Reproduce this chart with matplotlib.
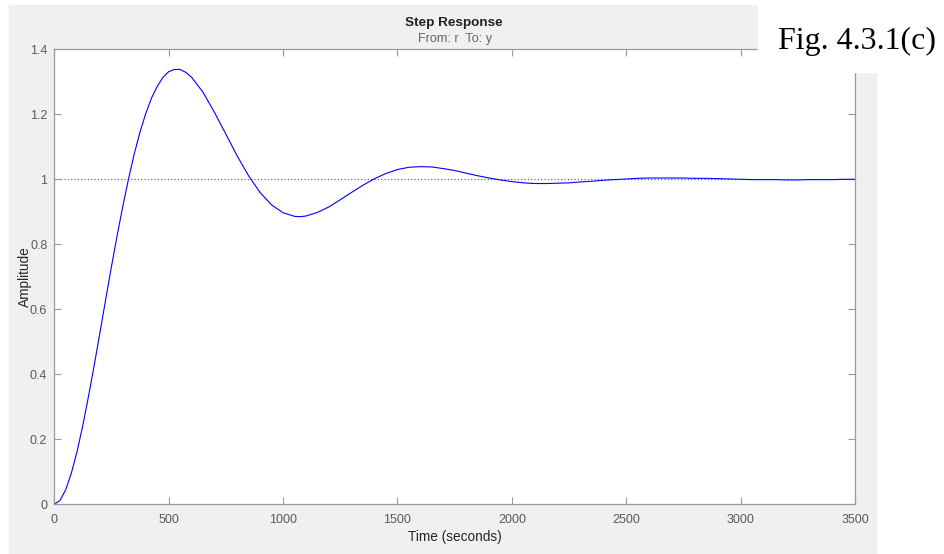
import matplotlib
matplotlib.use("Agg")
import matplotlib.pyplot as plt
from matplotlib.patches import Rectangle

# step response (seconds, amplitude)
t_s = [0, 25, 50, 75, 100, 125, 150, 175, 200, 225, 250, 275, 300, 325, 350,
       375, 400, 425, 450, 475, 500, 525, 550, 575, 600, 650, 700, 750, 800,
       850, 900, 950, 1000, 1050, 1075, 1100, 1150, 1200, 1250, 1300, 1350,
       1400, 1450, 1500, 1550, 1600, 1650, 1700, 1750, 1800, 1850, 1900, 1950,
       2000, 2050, 2100, 2150, 2200, 2250, 2300, 2350, 2400, 2450, 2500, 2550,
       2600, 2650, 2700, 2750, 2800, 2850, 2900, 2950, 3000, 3050, 3100, 3150,
       3200, 3250, 3300, 3350, 3400, 3450, 3500]
amp = [0.0, 0.012, 0.045, 0.097, 0.164, 0.244, 0.334, 0.430, 0.530, 0.632,
       0.732, 0.828, 0.919, 1.003, 1.080, 1.146, 1.203, 1.250, 1.286, 1.314,
       1.331, 1.338, 1.338, 1.329, 1.314, 1.268, 1.206, 1.139, 1.071, 1.010,
       0.959, 0.921, 0.897, 0.886, 0.885, 0.887, 0.898, 0.915, 0.937, 0.960,
       0.982, 1.002, 1.018, 1.030, 1.037, 1.039, 1.038, 1.033, 1.027, 1.019,
       1.011, 1.004, 0.998, 0.993, 0.989, 0.987, 0.987, 0.988, 0.989, 0.992,
       0.994, 0.997, 0.999, 1.001, 1.003, 1.004, 1.004, 1.004, 1.004, 1.003,
       1.003, 1.002, 1.001, 1.000, 0.999, 0.999, 0.999, 0.998, 0.998, 0.999,
       0.999, 0.999, 1.000, 1.000]

x_ticks = [0, 500, 1000, 1500, 2000, 2500, 3000, 3500]
y_ticks = [0, 0.2, 0.4, 0.6, 0.8, 1, 1.2, 1.4]
y_tick_labels = ["0", "0.2", "0.4", "0.6", "0.8", "1", "1.2", "1.4"]

W, H = 944, 554
plt.rcParams['font.family'] = ['Liberation Sans', 'DejaVu Sans']
fig = plt.figure(figsize=(W / 100, H / 100), dpi=100)
fig.patch.set_facecolor('white')

# matlab figure background
fig.patches.append(Rectangle((9 / W, 0), (876 - 9) / W, (H - 5) / H,
                             transform=fig.transFigure, color='#f0f0f0', zorder=-2))

ax = fig.add_axes([54.3 / W, (H - 504.3) / H, (855 - 54.3) / W, (504.3 - 49.3) / H])
ax.set_zorder(1)
ax.set_facecolor('white')
ax.plot(t_s, amp, color='#0000ff', lw=0.8)
ax.axhline(1, color='#555555', lw=0.8, ls=(0, (1, 2)), zorder=1)

ax.set_xlim(0, 3500)
ax.set_ylim(0, 1.4)
ax.set_xticks(x_ticks)
ax.set_yticks(y_ticks)
ax.set_yticklabels(y_tick_labels)
ax.tick_params(direction='in', length=5, width=0.8, colors='#9a9a9a',
               labelcolor='#5a5a5a', labelsize=9, top=True, right=True)
ax.tick_params(axis='x', pad=7)
ax.tick_params(axis='y', pad=5)
for s in ax.spines.values():
    s.set_color('#9a9a9a')
    s.set_linewidth(0.9)

ax.set_xlabel('Time (seconds)', fontsize=9.8, color='#262626', labelpad=3)
ax.set_ylabel('Amplitude', fontsize=9.8, color='#262626', labelpad=-1.5)

# white corner behind the caption, drawn over the axes box like in the scan
ax2 = fig.add_axes([0, 0, 1, 1], zorder=5)
ax2.set_axis_off()
ax2.set_xlim(0, W)
ax2.set_ylim(H, 0)
ax2.add_patch(Rectangle((758, 0), 877 - 758, 72, color='white'))
ax2.text(454, 26, 'Step Response', ha='center', va='baseline',
         fontsize=9.7, fontweight='bold', color='#222222')
ax2.text(455, 42, 'From: r  To: y', ha='center', va='baseline',
         fontsize=9.1, color='#666666')
ax2.text(778, 48.5, 'Fig. 4.3.1(c)', ha='left', va='baseline',
         fontsize=23, family='Liberation Serif', color='black')

fig.savefig('out.png', dpi=100)
